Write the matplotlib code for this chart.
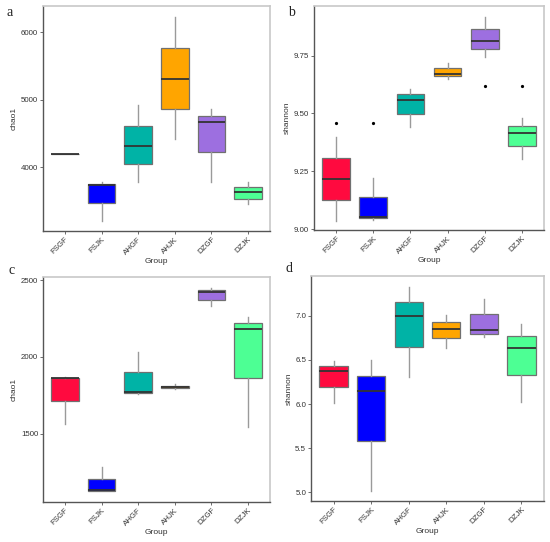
import matplotlib
matplotlib.use("Agg")
import matplotlib.pyplot as plt

groups = ["FSGF", "FSJK", "AHGF", "AHJK", "DZGF", "DZJK"]
colors = ["#FF0A3F", "#0000FF", "#00B3A6", "#FFA500", "#9D6FE0", "#4DFF94"]

# panel a: chao1
a_lo  = [4190, 3200, 3780, 4415, 3780, 3450]
a_q1  = [4190, 3465, 4045, 4855, 4218, 3530]
a_med = [4190, 3728, 4307, 5302, 4663, 3624]
a_q3  = [4190, 3752, 4614, 5762, 4762, 3703]
a_hi  = [4190, 3780, 4916, 6233, 4856, 3782]
a_out = [[], [], [], [], [], []]

# panel b: shannon
b_lo  = [9.037, 9.040, 9.440, 9.651, 9.745, 9.305]
b_q1  = [9.127, 9.047, 9.499, 9.662, 9.780, 9.361]
b_med = [9.217, 9.055, 9.560, 9.671, 9.815, 9.417]
b_q3  = [9.308, 9.140, 9.583, 9.695, 9.865, 9.448]
b_hi  = [9.400, 9.222, 9.607, 9.720, 9.918, 9.479]
b_out = [[9.458], [9.458], [], [], [9.619], [9.619]]

# panel c: chao1
c_lo  = [1563, 1124, 1759, 1791, 2328, 1543]
c_q1  = [1715, 1124, 1763, 1796, 2372, 1861]
c_med = [1861, 1130, 1770, 1802, 2420, 2183]
c_q3  = [1865, 1204, 1904, 1813, 2433, 2222]
c_hi  = [1867, 1280, 2033, 1820, 2448, 2259]
c_out = [[], [], [], [], [], []]

# panel d: shannon
d_lo  = [6.011, 5.015, 6.306, 6.634, 6.755, 6.019]
d_q1  = [6.192, 5.581, 6.645, 6.743, 6.796, 6.325]
d_med = [6.370, 6.147, 6.992, 6.853, 6.834, 6.634]
d_q3  = [6.426, 6.321, 7.155, 6.928, 7.015, 6.766]
d_hi  = [6.487, 6.502, 7.328, 7.011, 7.192, 6.902]
d_out = [[], [], [], [], [], []]

W, H = 550, 542


def px_axes(fig, l, t, r, b):
    return fig.add_axes([l / W, 1 - b / H, (r - l) / W, (b - t) / H])


def draw_panel(ax, lo, q1, med, q3, hi, out, ylabel, ylim, yticks, yticklabels):
    stats = []
    for i in range(len(groups)):
        stats.append(dict(whislo=lo[i], q1=q1[i], med=med[i], q3=q3[i],
                          whishi=hi[i], fliers=out[i], label=groups[i]))
    bp = ax.bxp(stats, positions=range(1, 7), widths=0.75, patch_artist=True,
                showcaps=False,
                boxprops=dict(edgecolor="#707070", linewidth=0.9),
                whiskerprops=dict(color="#9a9a9a", linewidth=1.0),
                medianprops=dict(color="#333333", linewidth=1.3),
                flierprops=dict(marker="o", markersize=1.3, markerfacecolor="black",
                                markeredgecolor="black"))
    for patch, c in zip(bp["boxes"], colors):
        patch.set_facecolor(c)
    ax.set_xlim(0.4, 6.6)
    ax.set_ylim(*ylim)
    ax.set_yticks(yticks)
    ax.set_yticklabels(yticklabels)
    ax.set_xticks(range(1, 7))
    ax.set_xticklabels(groups, rotation=45, ha="right", rotation_mode="anchor")
    ax.tick_params(labelsize=5.7, length=2, width=0.6, colors="#555555",
                   labelcolor="#333333", pad=1.5)
    ax.set_xlabel("Group", fontsize=6, color="#333333", labelpad=1)
    ax.set_ylabel(ylabel, fontsize=6, color="#333333", labelpad=2)
    for side in ["left", "bottom"]:
        ax.spines[side].set_color("#555555")
        ax.spines[side].set_linewidth(1.0)
    for side in ["top", "right"]:
        ax.spines[side].set_color("#c8c8c8")
        ax.spines[side].set_linewidth(1.2)


plt.rcParams["font.family"] = ["Liberation Sans", "DejaVu Sans"]
fig = plt.figure(figsize=(W / 100, H / 100), dpi=100)

ax_a = px_axes(fig, 43, 6, 270, 231)
draw_panel(ax_a, a_lo, a_q1, a_med, a_q3, a_hi, a_out, "chao1",
           (3050, 6390), [4000, 5000, 6000], ["4000", "5000", "6000"])

ax_b = px_axes(fig, 314, 6, 544, 230)
draw_panel(ax_b, b_lo, b_q1, b_med, b_q3, b_hi, b_out, "shannon",
           (8.997, 9.964), [9.00, 9.25, 9.50, 9.75], ["9.00", "9.25", "9.50", "9.75"])

ax_c = px_axes(fig, 43, 277, 270, 502)
draw_panel(ax_c, c_lo, c_q1, c_med, c_q3, c_hi, c_out, "chao1",
           (1054, 2520), [1500, 2000, 2500], ["1500", "2000", "2500"])

ax_d = px_axes(fig, 311, 276, 544, 501)
draw_panel(ax_d, d_lo, d_q1, d_med, d_q3, d_hi, d_out, "shannon",
           (4.902, 7.449), [5.0, 5.5, 6.0, 6.5, 7.0], ["5.0", "5.5", "6.0", "6.5", "7.0"])

for lab, x, y in [("a", 10, 13), ("b", 291, 13), ("c", 12, 271), ("d", 289, 269)]:
    fig.text(x / W, 1 - y / H, lab, fontsize=10, family="Liberation Serif",
             ha="center", va="center", color="#222222")

fig.savefig("out.png", dpi=100, facecolor="white")
